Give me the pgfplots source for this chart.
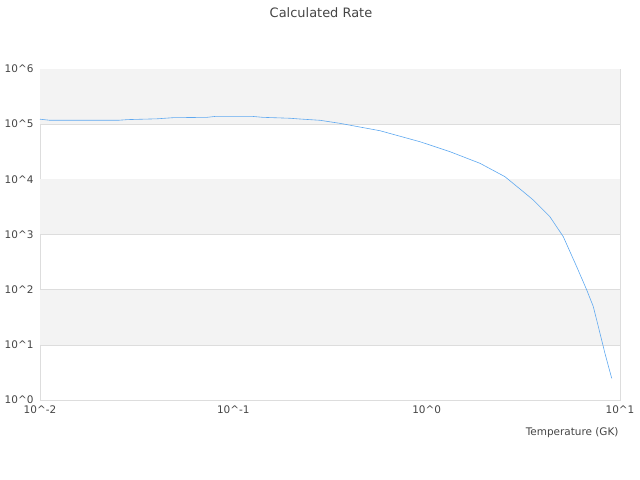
\documentclass[border=0pt]{standalone}
\usepackage{pgfplots}
\pgfplotsset{compat=1.18}
\usepackage{fontspec}
\setmainfont{DejaVu Sans}
\definecolor{band}{HTML}{F3F3F3}
\definecolor{gridc}{HTML}{DDDDDD}
\definecolor{linec}{HTML}{5EA8F0}
\definecolor{txt}{HTML}{444444}
\begin{document}
\begin{tikzpicture}
\useasboundingbox (0,0) rectangle (640bp,480bp);
\node[text=txt,font=\fontsize{13}{15}\selectfont] at (321bp,467.5bp) {Calculated Rate};
\begin{axis}[
  at={(40bp,80bp)}, anchor=south west,
  scale only axis, width=580bp, height=331bp,
  xmode=log, ymode=log,
  xmin=0.01, xmax=10, ymin=1, ymax=1e6,
  axis line style={gridc},
  xtick={0.01,0.1,1,10},
  xticklabels={10\textasciicircum-2,10\textasciicircum-1,10\textasciicircum0,10\textasciicircum1},
  ytick={1,10,100,1000,10000,100000,1000000},
  yticklabels={10\textasciicircum0,10\textasciicircum1,10\textasciicircum2,10\textasciicircum3,10\textasciicircum4,10\textasciicircum5,10\textasciicircum6},
  minor tick num=0,
  xminorticks=false, yminorticks=false,
  major tick length=0pt,
  ymajorgrids, grid style={gridc},
  ticklabel style={text=txt,font=\fontsize{10.5}{12}\selectfont},
  yticklabel style={xshift=-3bp},
  xticklabel style={yshift=-2bp},
  xlabel={Temperature (GK)},
  xlabel style={text=txt,font=\fontsize{10.5}{12}\selectfont,at={(axis description cs:1,0)},anchor=north east,yshift=-24bp,xshift=2bp},
]
\fill[band] (axis cs:0.01,10) rectangle (axis cs:10,100);
\fill[band] (axis cs:0.01,1000) rectangle (axis cs:10,10000);
\fill[band] (axis cs:0.01,100000) rectangle (axis cs:10,1000000);
\addplot[linec, line width=0.6pt, no marks] coordinates {
(0.0100,1.23e5)
(0.01127,1.175e5)
(0.0253,1.175e5)
(0.0285,1.21e5)
(0.0403,1.25e5)
(0.0487,1.31e5)
(0.0731,1.33e5)
(0.0804,1.38e5)
(0.1264,1.38e5)
(0.1420,1.33e5)
(0.1960,1.28e5)
(0.2210,1.24e5)
(0.2810,1.175e5)
(0.3560,1.035e5)
(0.5740,7.6e4)
(0.9240,4.8e4)
(1.3200,3.17e4)
(1.8880,1.95e4)
(2.5400,1.117e4)
(3.1600,5.97e3)
(3.5600,4.22e3)
(4.3400,2.10e3)
(5.0900,9.12e2)
(5.9700,2.61e2)
(6.7300,9.86e1)
(7.2800,4.92e1)
(7.7300,2.13e1)
(8.3600,7.0)
(9.0600,2.47)
};
\end{axis}
\end{tikzpicture}
\end{document}
